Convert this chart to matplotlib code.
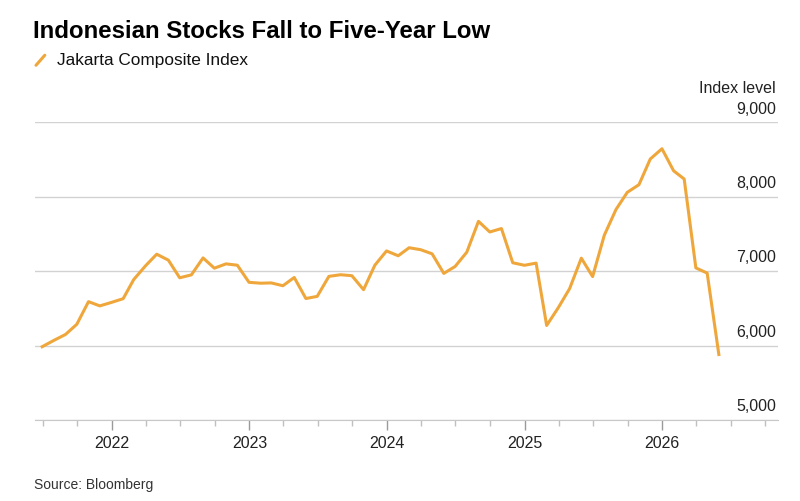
import numpy as np
import pandas as pd
import matplotlib
matplotlib.use("Agg")
import matplotlib.pyplot as plt
import matplotlib.dates as mdates
import matplotlib.transforms as mtransforms
from matplotlib.lines import Line2D

plt.rcParams['font.family'] = ['Liberation Sans', 'DejaVu Sans']

# month-end closes, Jun 2021 .. May 2026
months = pd.date_range('2021-06-30', periods=60, freq='ME')
jci = [
    5985, 6070, 6150, 6287, 6591, 6534, 6581,                          # 2021
    6631, 6888, 7071, 7229, 7149, 6912, 6951, 7179, 7041, 7099, 7081, 6851,  # 2022
    6839, 6843, 6805, 6916, 6633, 6662, 6931, 6953, 6940, 6752, 7081, 7273,  # 2023
    7208, 7316, 7289, 7234, 6971, 7064, 7256, 7671, 7528, 7574, 7114, 7080,  # 2024
    7109, 6271, 6511, 6767, 7176, 6928, 7484, 7830, 8061, 8164, 8509, 8647,  # 2025
    8350, 8240, 7045, 6975, 5880,                                      # 2026
]
y_ticks = [5000, 6000, 7000, 8000, 9000]

line_color = '#EFA73C'
grid_color = '#d2d2d2'

fig = plt.figure(figsize=(8, 5.02), dpi=100)
ax = fig.add_axes([0.04375, 0.1614, 0.92875, 0.5926])

ax.plot(months, jci, color=line_color, lw=2.2, solid_joinstyle='round', zorder=3)

ax.set_ylim(5000, 9000)
ax.set_xlim(pd.Timestamp('2021-06-11'), pd.Timestamp('2026-11-04'))

ax.set_yticks(y_ticks)
ax.tick_params(axis='y', length=0, labelleft=False)
ax.grid(axis='y', color=grid_color, lw=1)
ax.set_axisbelow(True)

# y labels sit above the gridlines, right-aligned
trans = mtransforms.blended_transform_factory(ax.transAxes, ax.transData)
lift = mtransforms.ScaledTranslation(0, 5 / 72, fig.dpi_scale_trans)
for v in y_ticks:
    ax.text(0.997, v, f'{v:,}', transform=trans + lift, ha='right', va='bottom',
            fontsize=11.5, color='#222222')
ax.text(0.997, 1.094, 'Index level', transform=ax.transAxes, ha='right', va='bottom',
        fontsize=11.5, color='#222222')

ax.xaxis.set_major_locator(mdates.YearLocator())
ax.xaxis.set_major_formatter(mdates.DateFormatter('%Y'))
ax.xaxis.set_minor_locator(mdates.MonthLocator(bymonth=[1, 4, 7, 10]))
ax.tick_params(axis='x', which='major', length=7, width=1, color='#9a9a9a',
               labelsize=11.5, labelcolor='#222222', pad=4)
ax.tick_params(axis='x', which='minor', length=4, width=1, color='#c0c0c0')

for s in ['top', 'right', 'left']:
    ax.spines[s].set_visible(False)
ax.spines['bottom'].set_color('#c8c8c8')

fig.text(0.041, 0.925, 'Indonesian Stocks Fall to Five-Year Low', fontsize=17.3,
         fontweight='bold', color='#000000', va='baseline')
fig.add_artist(Line2D([0.045, 0.056], [0.868, 0.888], color=line_color, lw=2.2,
                      solid_capstyle='round', transform=fig.transFigure))
fig.text(0.071, 0.88, 'Jakarta Composite Index', fontsize=12.4, color='#111111', va='center')
fig.text(0.043, 0.033, 'Source: Bloomberg', fontsize=10, color='#333333', va='center')

fig.savefig('out.png', dpi=100, facecolor='white')
